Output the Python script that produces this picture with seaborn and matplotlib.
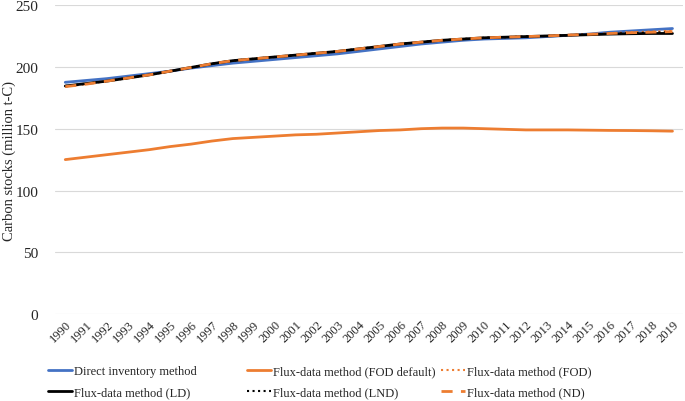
import numpy as np
import pandas as pd
import matplotlib
matplotlib.use("Agg")
import matplotlib.pyplot as plt
import seaborn as sns

years = list(range(1990, 2020))

direct = [187.5, 189, 190.5, 192.5, 194.5, 196.5, 199, 201, 203, 204.5,
          206, 207.5, 209, 210.5, 212.5, 214.5, 216.5, 218.5, 220, 221.5,
          222.5, 223, 223.5, 224.5, 225.5, 226.5, 228, 229, 230, 231]
fod_default = [125, 127, 129, 131, 133, 135.5, 137.5, 140, 142, 143,
               144, 145, 145.5, 146.5, 147.5, 148.5, 149, 150, 150.5, 150.5,
               150, 149.5, 149, 149, 149, 148.8, 148.6, 148.5, 148.3, 148]
fod = [184, 186, 188.5, 191, 193.5, 196.5, 199.5, 202.5, 205, 206.5,
       208, 209.5, 211, 212.5, 214.5, 216.5, 218.5, 220, 221.5, 222.5,
       223.5, 224, 224.5, 225, 225.8, 226.5, 227.2, 228, 228.5, 229]
ld = [184.5, 186.5, 188.5, 191, 193.5, 196.5, 199.5, 202.5, 205, 206.5,
      208, 209.5, 211, 212.5, 214.5, 216.5, 218.5, 220, 221.5, 222.5,
      223.5, 224, 224.5, 225, 225.5, 226, 226.5, 226.8, 227, 227]
lnd = [184.5, 186.5, 188.5, 191, 193.5, 196.5, 199.5, 202.5, 205, 206.5,
       208, 209.5, 211, 212.5, 214.5, 216.5, 218.5, 220, 221.5, 222.5,
       223.5, 224, 224.5, 225, 225.6, 226.2, 226.8, 227.3, 227.7, 228]
nd = [184, 186, 188.5, 191, 193.5, 196.5, 199.5, 202.5, 205, 206.5,
      208, 209.5, 211, 212.5, 214.5, 216.5, 218.5, 220, 221.5, 222.5,
      223.5, 224, 224.5, 225, 225.7, 226.3, 227, 227.6, 228, 228.5]

series = {
    "Direct inventory method": direct,
    "Flux-data method (FOD default)": fod_default,
    "Flux-data method (FOD)": fod,
    "Flux-data method (LD)": ld,
    "Flux-data method (LND)": lnd,
    "Flux-data method (ND)": nd,
}
styles = {
    "Direct inventory method": ("#4472C4", "-", 2.0),
    "Flux-data method (FOD default)": ("#ED7D31", "-", 2.0),
    "Flux-data method (FOD)": ("#ED7D31", ":", 1.5),
    "Flux-data method (LD)": ("#000000", "-", 2.0),
    "Flux-data method (LND)": ("#000000", ":", 1.5),
    "Flux-data method (ND)": ("#ED7D31", (0, (4, 3)), 2.0),
}

df = pd.DataFrame({"year": years, **series}).melt(
    id_vars="year", var_name="method", value_name="stock")
df["idx"] = df["year"] - years[0]

sns.set_style("white")
plt.rcParams["font.family"] = ["Liberation Serif", "DejaVu Serif"]

fig = plt.figure(figsize=(6.85, 4.02), dpi=100)
ax = fig.add_axes([0.08, 0.216, 0.917, 0.769])

for name in series:
    color, ls, lw = styles[name]
    sns.lineplot(data=df[df["method"] == name], x="idx", y="stock", ax=ax,
                 color=color, linestyle=ls, linewidth=lw, label=name)

ax.set_xlim(-0.5, len(years) - 0.5)
ax.set_ylim(0, 250)
ax.set_yticks(range(0, 251, 50))
ax.set_xticks(range(len(years)))
ax.set_xticklabels(years, rotation=45, ha="right", rotation_mode="anchor", fontsize=9)
ax.tick_params(axis="y", labelsize=11, length=0, pad=12)
ax.tick_params(axis="x", length=0, pad=3)
ax.yaxis.grid(True, color="#d9d9d9", linewidth=0.8)
ax.set_axisbelow(True)
for s in ax.spines.values():
    s.set_visible(False)
ax.set_xlabel("")
ax.set_ylabel("Carbon stocks (million t-C)", fontsize=10.5)
ax.yaxis.set_label_coords(-0.062, 0.5)

# legend laid out as three fixed-width columns, like the original
handles, labels = ax.get_legend_handles_labels()
ax.legend_.remove()
col_x = [48 / 685, 247 / 685, 441 / 685]
for c, x0 in enumerate(col_x):
    idx = [c, c + 3]
    fig.legend([handles[i] for i in idx], [labels[i] for i in idx],
               loc="upper left", bbox_to_anchor=(x0, 1 - 366 / 402),
               frameon=False, fontsize=9, handlelength=1.9,
               handletextpad=0.15, labelspacing=0.75,
               borderpad=0, borderaxespad=0)

fig.savefig("out.png", dpi=100)
